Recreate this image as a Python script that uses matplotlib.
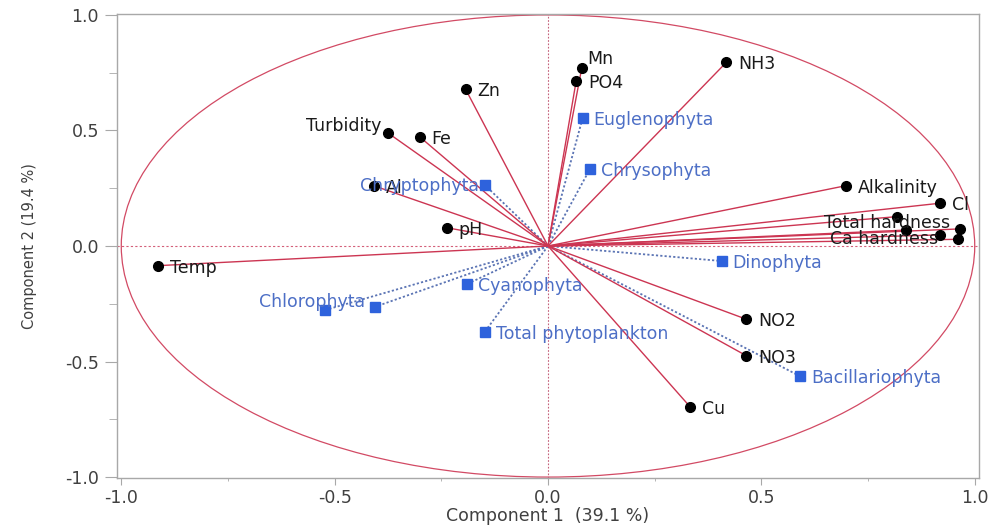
import matplotlib
matplotlib.use("Agg")
import matplotlib.pyplot as plt
from matplotlib.patches import Circle
from matplotlib.ticker import MultipleLocator

# Loadings of the water quality variables on the first two components
var_names = ["Mn", "PO4", "NH3", "Zn", "Turbidity", "Fe", "Al", "pH", "Temp",
             "Alkalinity", "Cl", "", "", "Total hardness", "", "Ca hardness",
             "NO2", "NO3", "Cu"]
var_pc1 = [0.079, 0.066, 0.418, -0.193, -0.374, -0.301, -0.407, -0.237, -0.913,
           0.698, 0.918, 0.817, 0.840, 0.965, 0.918, 0.961,
           0.465, 0.465, 0.333]
var_pc2 = [0.769, 0.714, 0.795, 0.678, 0.488, 0.473, 0.260, 0.079, -0.085,
           0.261, 0.185, 0.127, 0.069, 0.074, 0.048, 0.029,
           -0.317, -0.475, -0.696]

# Loadings of the phytoplankton groups
phyto_names = ["Euglenophyta", "Chrysophyta", "Chryptophyta", "Cyanophyta",
               "Total phytoplankton", "Chlorophyta", "", "Dinophyta",
               "Bacillariophyta"]
phyto_pc1 = [0.081, 0.098, -0.148, -0.190, -0.148, -0.405, -0.522, 0.407, 0.590]
phyto_pc2 = [0.553, 0.332, 0.264, -0.165, -0.371, -0.263, -0.277, -0.065, -0.563]

xlabel = "Component 1  (39.1 %)"
ylabel = "Component 2 (19.4 %)"

# label offsets in pixels (dx, dy, ha) where the default spot would collide
label_pos = {
    "Mn": (6, 9, "left"),
    "Turbidity": (-7, 7, "right"),
    "Total hardness": (-10, 6, "right"),
    "Ca hardness": (-20, 0, "right"),
    "Chryptophyta": (-6, -1, "right"),
    "Chlorophyta": (-10, 5, "right"),
}

red = "#cc3552"
blue = "#2e62dc"
blue_line = "#5b74b4"
blue_text = "#4d6fc6"
grey = "#a8a8a8"

fig = plt.figure(figsize=(9.96, 5.26), dpi=100)
ax = fig.add_axes([117 / 996, 48 / 526, 862 / 996, 464 / 526])
ax.set_xlim(-1.01, 1.01)
ax.set_ylim(-1.004, 1.004)

# unit circle and zero reference lines
ax.add_patch(Circle((0, 0), 1.0, fill=False, edgecolor="#d24a64", lw=0.9, zorder=1))
ax.axhline(0, color="#d4607a", lw=0.8, ls=(0, (2, 2)), zorder=1)
ax.axvline(0, color="#c4607a", lw=0.8, ls=(0, (1.5, 1.5)), zorder=1)

# dotted spokes to the phytoplankton groups
for x, y in zip(phyto_pc1, phyto_pc2):
    ax.plot([0, x], [0, y], color=blue_line, lw=1.3, ls=(0, (1.2, 1.2)), zorder=2)
ax.plot(phyto_pc1, phyto_pc2, ls="none", marker="s", ms=6.5, color=blue, zorder=4)

# solid spokes to the water quality variables
for x, y in zip(var_pc1, var_pc2):
    ax.plot([0, x], [0, y], color=red, lw=1.0, zorder=3)
ax.plot(var_pc1, var_pc2, ls="none", marker="o", ms=7, color="black", zorder=5)


def put_labels(names, xs, ys, color, dx0):
    for name, x, y in zip(names, xs, ys):
        if not name:
            continue
        dx, dy, ha = label_pos.get(name, (dx0, -2, "left"))
        ax.annotate(name, (x, y), xytext=(dx, dy), textcoords="offset pixels",
                    ha=ha, va="center", fontsize=12.5, color=color, zorder=6)


put_labels(var_names, var_pc1, var_pc2, "#1a1a1a", 12)
put_labels(phyto_names, phyto_pc1, phyto_pc2, blue_text, 11)

# axes styling
for side in ["left", "right", "top", "bottom"]:
    ax.spines[side].set_color(grey)
    ax.spines[side].set_linewidth(1.0)
ax.xaxis.set_major_locator(MultipleLocator(0.5))
ax.xaxis.set_minor_locator(MultipleLocator(0.25))
ax.yaxis.set_major_locator(MultipleLocator(0.5))
ax.yaxis.set_minor_locator(MultipleLocator(0.25))
ax.xaxis.set_major_formatter(lambda v, p: f"{v:.1f}")
ax.yaxis.set_major_formatter(lambda v, p: f"{v:.1f}")
ax.tick_params(which="major", direction="out", color=grey,
               labelsize=12.5, labelcolor="#404040")
ax.tick_params(axis="x", which="major", length=5, pad=3)
ax.tick_params(axis="y", which="major", length=9, pad=4)
ax.tick_params(axis="x", which="minor", direction="out", length=2.5, color=grey)
ax.tick_params(axis="y", which="minor", direction="out", length=6, color=grey)

ax.set_xlabel(xlabel, fontsize=12.5, color="#404040")
ax.set_ylabel(ylabel, fontsize=10.5, color="#404040")
ax.xaxis.set_label_coords(0.5, -0.062)
ax.yaxis.set_label_coords(-0.093, 0.5)

fig.savefig("out.png", dpi=100)
